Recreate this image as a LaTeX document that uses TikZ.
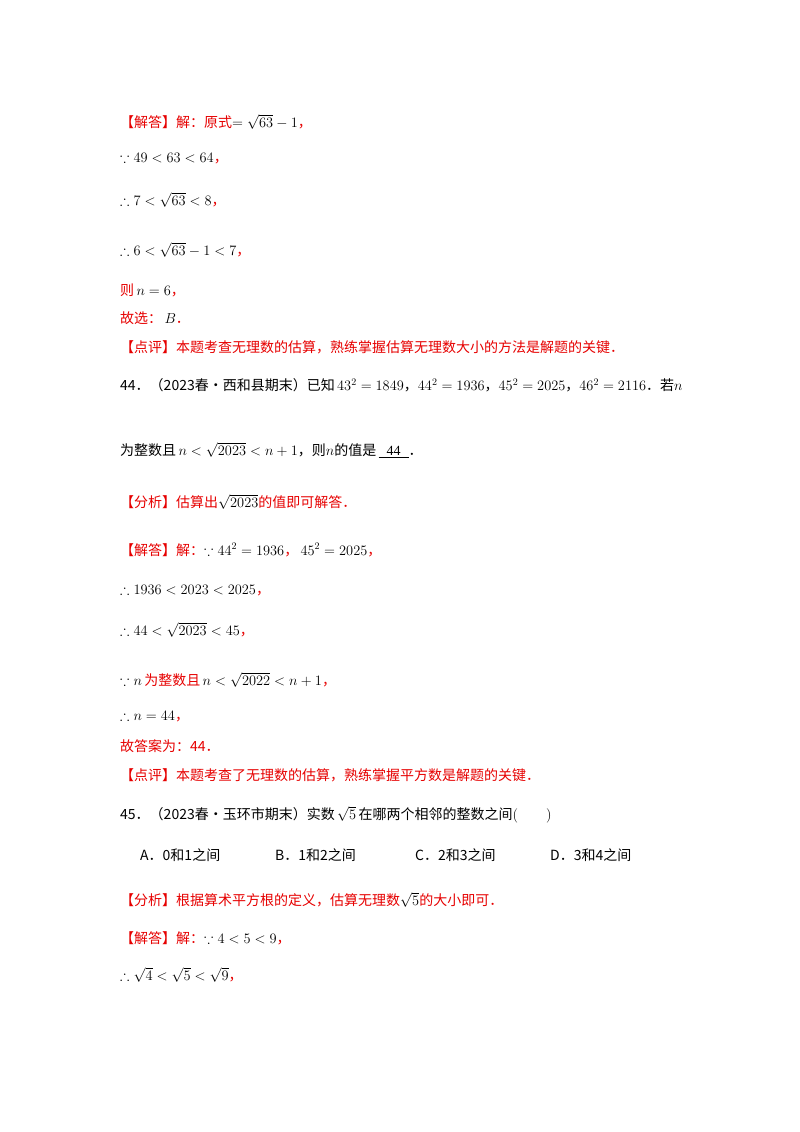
\documentclass[tikz,border=0pt]{standalone}
\usepackage{amssymb}
\usepackage{fontspec}
\setmainfont{Liberation Serif}
\newfontfamily\cjk{Noto Sans CJK SC}
\definecolor{rd}{RGB}{230,0,0}
\newcommand{\R}[1]{\textcolor{rd}{\cjk #1}}
\newcommand{\C}[1]{{\cjk #1}}
\begin{document}
\begin{tikzpicture}[x=1pt,y=-1pt,every node/.style={anchor=west,inner sep=0pt,font=\fontsize{14}{16}\selectfont}]
\useasboundingbox (0,0) rectangle (800,1132);
\node (l1) at (120,122) {\R{【解答】解：原式}$=\sqrt{63}-1$\R{，}};
\node (l2) at (120,158) {$\because 49<63<64$\R{，}};
\node (l3) at (120,200) {$\therefore 7<\sqrt{63}<8$\R{，}};
\node (l4) at (120,250) {$\therefore 6<\sqrt{63}-1<7$\R{，}};
\node (l5) at (120,290) {\R{则}\,$n=6$\R{，}};
\node (l6) at (120,318) {\R{故选：}\,$B$\R{．}};
\node (l7) at (120,347) {\R{【点评】本题考查无理数的估算，熟练掌握估算无理数大小的方法是解题的关键．}};
\node (l8) at (120,385) {\C{44．（2023春•西和县期末）已知}\,$43^2=1849$\C{，}$44^2=1936$\C{，}$45^2=2025$\C{，}$46^2=2116$\C{．若}$n$};
\node (l9) at (120,450) {\C{为整数且}\,$n<\sqrt{2023}<n+1$\C{，则}$n$\C{的值是}\,\underline{\hspace{8pt}44\hspace{8pt}}\C{．}};
\node (l10) at (120,502) {\R{【分析】估算出}$\sqrt{2023}$\R{的值即可解答．}};
\node (l11) at (120,550) {\R{【解答】解：}$\because 44^2=1936$\R{，}\,$45^2=2025$\R{，}};
\node (l12) at (120,590) {$\therefore 1936<2023<2025$\R{，}};
\node (l13) at (120,630) {$\therefore 44<\sqrt{2023}<45$\R{，}};
\node (l14) at (120,680) {$\because n$\,\R{为整数且}\,$n<\sqrt{2022}<n+1$\R{，}};
\node (l15) at (120,716) {$\therefore n=44$\R{，}};
\node (l16) at (120,746) {\R{故答案为：44．}};
\node (l17) at (120,775) {\R{【点评】本题考查了无理数的估算，熟练掌握平方数是解题的关键．}};
\node (l18) at (120,815) {\C{45．（2023春•玉环市期末）实数}\,$\sqrt{5}$\,\C{在哪两个相邻的整数之间}$(\qquad)$};
\node (a) at (140,855) {\C{A．0和1之间}};
\node (b) at (275,855) {\C{B．1和2之间}};
\node (c) at (415,855) {\C{C．2和3之间}};
\node (d) at (550,855) {\C{D．3和4之间}};
\node (l19) at (120,900) {\R{【分析】根据算术平方根的定义，估算无理数}$\sqrt{5}$\R{的大小即可．}};
\node (l20) at (120,938) {\R{【解答】解：}$\because 4<5<9$\R{，}};
\node (l21) at (120,975) {$\therefore \sqrt{4}<\sqrt{5}<\sqrt{9}$\R{，}};
\end{tikzpicture}
\end{document}
